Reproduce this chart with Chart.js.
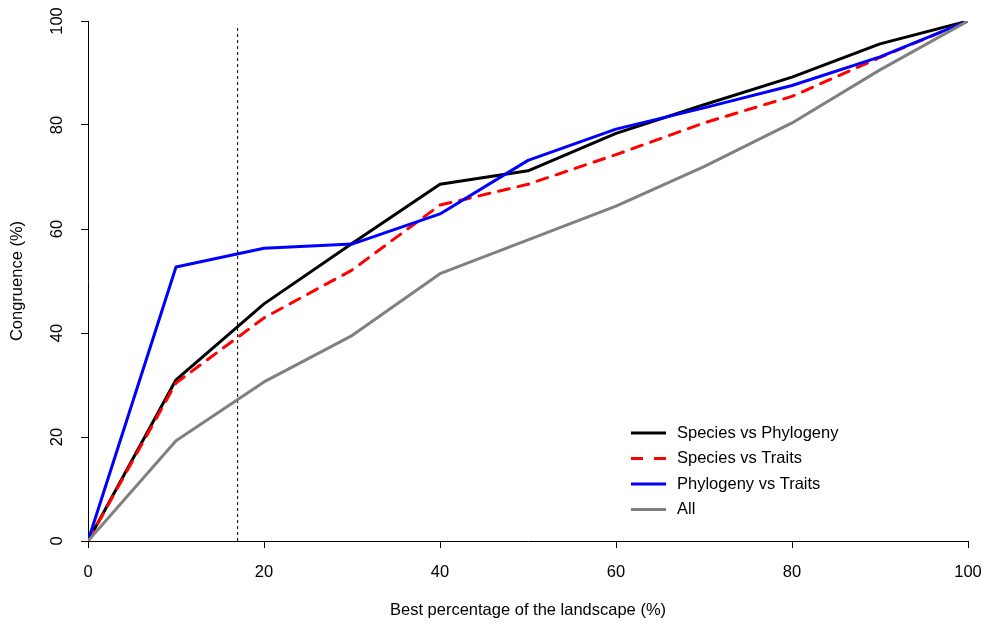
<!DOCTYPE html>
<html lang="en">
<head>
    <meta charset="UTF-8">
    <title>Congruence vs best percentage of the landscape</title>
    <script src="https://cdn.jsdelivr.net/npm/chart.js"></script>
    <style>
        body { margin: 0; background: #fff; }
        #wrap { width: 985px; height: 624px; }
    </style>
</head>
<body>
    <div id="wrap"><canvas id="chart" width="985" height="624"></canvas></div>

    <script>
        const xValues = [0, 10, 20, 30, 40, 50, 60, 70, 80, 90, 100];
        const speciesVsPhylogeny = [0, 31.0, 45.6, 57.2, 68.6, 71.2, 78.4, 83.9, 89.2, 95.6, 100];
        const speciesVsTraits    = [0, 30.4, 42.9, 52.1, 64.6, 68.6, 74.3, 80.4, 85.5, 93.0, 100];
        const phylogenyVsTraits  = [0, 52.7, 56.3, 57.1, 62.9, 73.2, 79.2, 83.3, 87.6, 93.1, 100];
        const allThree           = [0, 19.3, 30.6, 39.5, 51.4, 57.9, 64.4, 72.0, 80.4, 90.6, 100];
        const seriesNames = ["Species vs Phylogeny", "Species vs Traits", "Phylogeny vs Traits", "All"];
        const xTicks = [0, 20, 40, 60, 80, 100];
        const yTicks = [0, 20, 40, 60, 80, 100];
        const cutoffX = 17;
        const cutoffTop = 99.3;

        const FONT = '"Liberation Sans", Arial, sans-serif';
        const FSIZE = 16.5;
        const toPoints = ys => xValues.map((x, i) => ({ x, y: ys[i] }));

        const series = [
            { data: speciesVsPhylogeny, color: "#000000", dash: [] },
            { data: speciesVsTraits, color: "#ff0000", dash: [11, 9] },
            { data: phylogenyVsTraits, color: "#0000ff", dash: [] },
            { data: allThree, color: "#808080", dash: [] }
        ];

        const datasets = series.map((s, i) => ({
            label: seriesNames[i],
            data: toPoints(s.data),
            borderColor: s.color,
            borderDash: s.dash,
            borderWidth: 3,
            borderCapStyle: "round",
            borderJoinStyle: "round",
            pointRadius: 0,
            tension: 0,
            order: 4 - i
        }));
        datasets.push({
            label: "cutoff",
            data: [{ x: cutoffX, y: 0 }, { x: cutoffX, y: cutoffTop }],
            borderColor: "#000000",
            borderDash: [3, 3],
            borderWidth: 1,
            pointRadius: 0,
            order: 10
        });

        // R-style rotated y tick labels
        const yLabelPlugin = {
            id: "yLabels",
            afterDraw(chart) {
                const ctx = chart.ctx, ys = chart.scales.y;
                ctx.save();
                ctx.font = FSIZE + "px " + FONT;
                ctx.fillStyle = "#000";
                ctx.textAlign = "center";
                ctx.textBaseline = "middle";
                yTicks.forEach(v => {
                    ctx.save();
                    ctx.translate(57, ys.getPixelForValue(v));
                    ctx.rotate(-Math.PI / 2);
                    ctx.fillText(String(v), 0, 0);
                    ctx.restore();
                });
                ctx.restore();
            }
        };

        // legend inside the plot, no box
        const legendPlugin = {
            id: "innerLegend",
            afterDraw(chart) {
                const ctx = chart.ctx;
                ctx.save();
                ctx.font = FSIZE + "px " + FONT;
                ctx.textBaseline = "middle";
                ctx.fillStyle = "#000";
                seriesNames.forEach((name, i) => {
                    const y = 433 + i * 25.5;
                    ctx.strokeStyle = series[i].color;
                    ctx.lineWidth = 3;
                    ctx.setLineDash(series[i].dash.length ? [12, 11] : []);
                    ctx.beginPath();
                    ctx.moveTo(631, y);
                    ctx.lineTo(666, y);
                    ctx.stroke();
                    ctx.setLineDash([]);
                    ctx.fillText(name, 677, y);
                });
                ctx.restore();
            }
        };

        new Chart(document.getElementById("chart"), {
            type: "line",
            data: { datasets },
            options: {
                responsive: false,
                animation: false,
                layout: { padding: { top: 21, right: 17, left: 0, bottom: 0 } },
                plugins: { legend: { display: false }, tooltip: { enabled: false } },
                scales: {
                    x: {
                        type: "linear",
                        min: 0, max: 100,
                        afterBuildTicks: s => { s.ticks = xTicks.map(v => ({ value: v })); },
                        afterFit: s => { s.height = 83; s.paddingLeft = 0; s.paddingRight = 0; },
                        grid: { display: true, drawOnChartArea: false, tickLength: 7, tickColor: "#000", tickWidth: 1 },
                        border: { display: true, color: "#000", width: 1 },
                        ticks: { color: "#000", font: { family: FONT, size: FSIZE }, padding: 15, maxRotation: 0 },
                        title: { display: true, text: "Best percentage of the landscape (%)", color: "#000",
                                 font: { family: FONT, size: FSIZE }, padding: { top: 0, bottom: 4 } }
                    },
                    y: {
                        type: "linear",
                        min: 0, max: 100,
                        afterBuildTicks: s => { s.ticks = yTicks.map(v => ({ value: v })); },
                        afterFit: s => { s.width = 88; s.paddingTop = 0; s.paddingBottom = 0; },
                        grid: { display: true, drawOnChartArea: false, tickLength: 7, tickColor: "#000", tickWidth: 1 },
                        border: { display: true, color: "#000", width: 1 },
                        ticks: { display: false },
                        title: { display: true, text: "Congruence (%)", color: "#000",
                                 font: { family: FONT, size: FSIZE }, padding: { top: 8, bottom: 0 } }
                    }
                }
            },
            plugins: [yLabelPlugin, legendPlugin]
        });
    </script>
</body>
</html>
